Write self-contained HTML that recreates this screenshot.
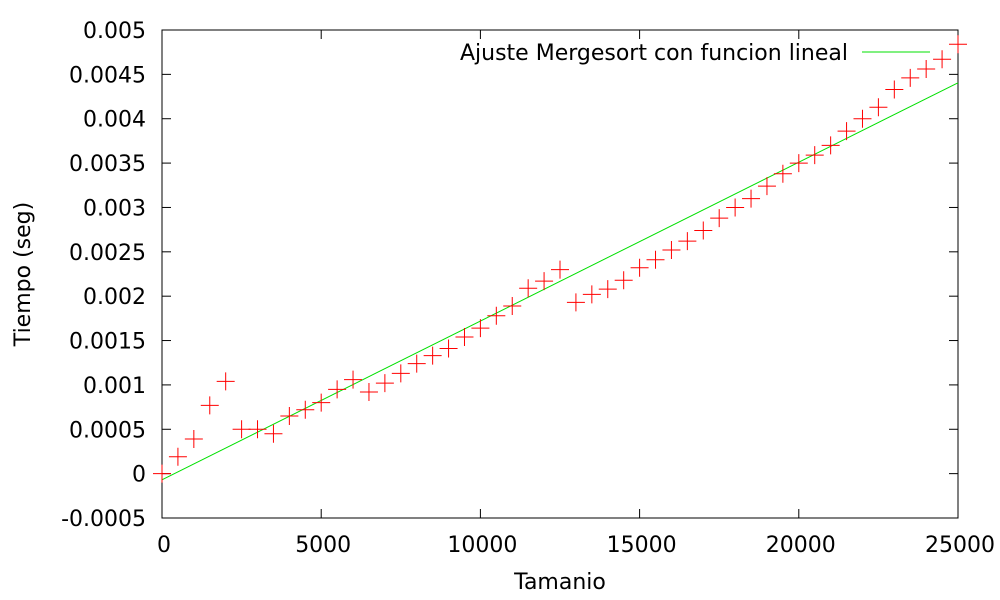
<!DOCTYPE html>
<html><head><meta charset="utf-8"><style>body{margin:0;background:#fff}svg{display:block}text{font-family:"DejaVu Sans","Liberation Sans",sans-serif;font-size:22px;fill:#000}</style></head>
<body>
<svg id="chart" width="1000" height="600" viewBox="0 0 1000 600"></svg>
<script>
const xValues=[0,500,1000,1500,2000,2500,3000,3500,4000,4500,5000,5500,6000,6500,7000,7500,8000,8500,9000,9500,10000,10500,11000,11500,12000,12500,13000,13500,14000,14500,15000,15500,16000,16500,17000,17500,18000,18500,19000,19500,20000,20500,21000,21500,22000,22500,23000,23500,24000,24500,25000];
const timeValues=[0,0.00019,0.00039,0.00077,0.00104,0.0005,0.0005,0.00045,0.00065,0.00072,0.0008,0.00095,0.00106,0.00092,0.00102,0.00113,0.00124,0.00133,0.00141,0.00154,0.00164,0.00178,0.00189,0.00209,0.00217,0.0023,0.00193,0.00202,0.00208,0.00218,0.00232,0.00241,0.00252,0.00262,0.00274,0.00288,0.003,0.0031,0.00324,0.00338,0.0035,0.00359,0.0037,0.00386,0.004,0.00413,0.00433,0.00446,0.00456,0.00467,0.00484];
const fitIntercept=-0.00007;
const fitSlope=1.79e-7;
const xTicks=[0,5000,10000,15000,20000,25000];
const yTicks=[-0.0005,0,0.0005,0.001,0.0015,0.002,0.0025,0.003,0.0035,0.004,0.0045,0.005];
const yTickLabels=["-0.0005","0","0.0005","0.001","0.0015","0.002","0.0025","0.003","0.0035","0.004","0.0045","0.005"];
const L=162,R=958,T=30,B=518;
const X=v=>L+(v-0)/25000*(R-L);
const Y=v=>B-(v+0.0005)/0.0055*(B-T);
const svg=document.getElementById('chart');
const NS='http://www.w3.org/2000/svg';
function mk(tag,attrs,parent){const e=document.createElementNS(NS,tag);for(const k in attrs)e.setAttribute(k,attrs[k]);(parent||svg).appendChild(e);return e;}
const frame=mk('rect',{x:L,y:T,width:R-L,height:B-T,fill:'none',stroke:'#000','stroke-width':1});


xTicks.forEach(v=>{const x=X(v);
 const t1=mk('line',{x1:x,y1:B,x2:x,y2:B-9,stroke:'#000'});
 
 
 const t2=mk('line',{x1:x,y1:T,x2:x,y2:T+9,stroke:'#000'});
 
 
 const tx=mk('text',{x:x+2,y:B+34,'text-anchor':'middle'});tx.textContent=v;
 
 
});
yTicks.forEach((v,i)=>{const y=Y(v);
 const t1=mk('line',{x1:L,y1:y,x2:L+9,y2:y,stroke:'#000'});
 
 
 const t2=mk('line',{x1:R,y1:y,x2:R-9,y2:y,stroke:'#000'});
 
 
 const tx=mk('text',{x:L-16,y:y+8,'text-anchor':'end'});tx.textContent=yTickLabels[i];
 
 
});
const fit=mk('line',{x1:X(0),y1:Y(fitIntercept),x2:X(25000),y2:Y(fitIntercept+fitSlope*25000),stroke:'#00e000','stroke-width':1});


xValues.forEach((v,i)=>{const x=X(v),y=Y(timeValues[i]);
 const p=mk('path',{d:`M${x-9},${y}H${x+9}M${x},${y-9}V${y+9}`,stroke:'#f00','stroke-width':1,fill:'none'});
 
 
});
const lg=mk('text',{x:848,y:60,'text-anchor':'end'});lg.textContent='Ajuste Mergesort con funcion lineal';


const ll=mk('line',{x1:862,y1:52,x2:930,y2:52,stroke:'#00e000'});


const xt=mk('text',{x:560,y:589,'text-anchor':'middle'});xt.textContent='Tamanio';


const yt=mk('text',{x:0,y:0,'text-anchor':'middle',transform:'translate(30,274) rotate(-90)'});yt.textContent='Tiempo (seg)';


</script>
</body></html>
